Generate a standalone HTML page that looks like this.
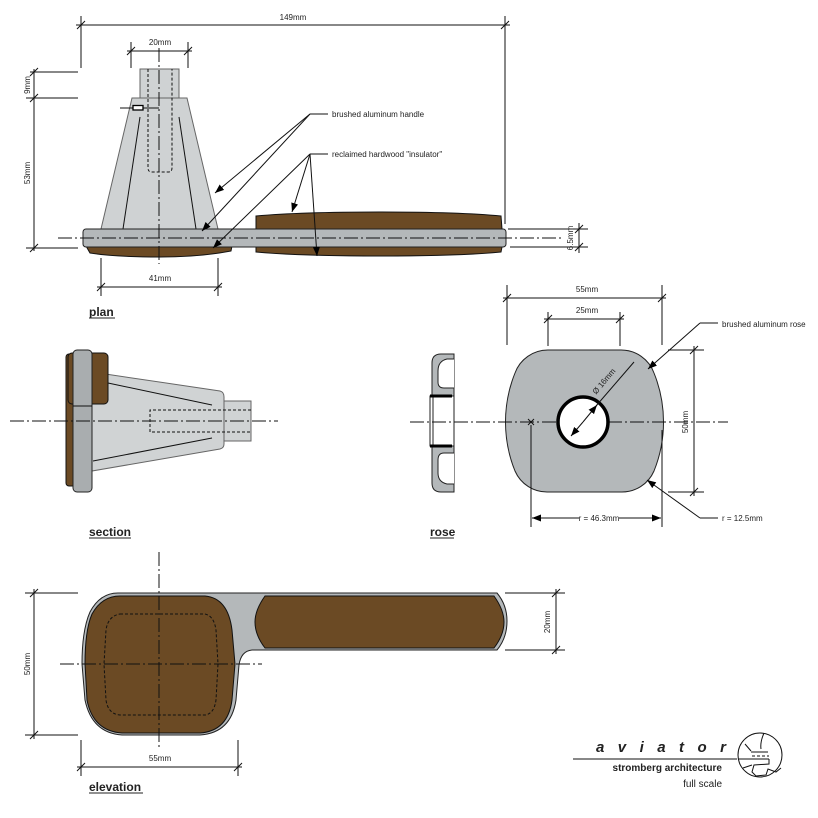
<!DOCTYPE html>
<html><head><meta charset="utf-8"><style>
html,body{margin:0;padding:0;background:#fff;}
svg{display:block;}
text{font-family:"Liberation Sans",sans-serif;fill:#222;}
</style></head><body>
<svg width="818" height="818" viewBox="0 0 818 818" xmlns="http://www.w3.org/2000/svg">
<defs>
<marker id="ar" markerWidth="10" markerHeight="8" refX="9" refY="4" orient="auto" markerUnits="userSpaceOnUse"><path d="M0,0.5 L9,4 L0,7.5 Z" fill="#000"/></marker>
</defs>
<rect width="818" height="818" fill="#fff"/>

<!-- ================= PLAN ================= -->
<path d="M256,216 Q300,212 380,212 Q460,212 501,216 L502,229 L502,247 L501,252 Q460,256 380,256 Q300,256 256,252 Z" fill="#6b4a24" stroke="#111" stroke-width="1"/>
<path d="M86,246 L232,246 L231,251 Q200,257 160,257 Q115,257 90,253 Z" fill="#6b4a24" stroke="#111" stroke-width="1"/>
<rect x="140" y="69" width="39" height="29" fill="#cfd2d3" stroke="#666" stroke-width="1"/>
<polygon points="132,98 187,98 218,229 101,229" fill="#cfd2d3" stroke="#666" stroke-width="1"/>
<line x1="140" y1="117" x2="123" y2="229" stroke="#111" stroke-width="1"/>
<line x1="179" y1="117" x2="196" y2="229" stroke="#111" stroke-width="1"/>
<path d="M148,69 L148,168 Q148,172 152,172 L168,172 Q172,172 172,168 L172,69" fill="none" stroke="#111" stroke-width="1" stroke-dasharray="3 2"/>
<line x1="120" y1="108" x2="159" y2="108" stroke="#111" stroke-width="1"/>
<rect x="133" y="105.5" width="10" height="4.5" fill="#fff" stroke="#000" stroke-width="1.3"/>
<rect x="83" y="229" width="423" height="18" rx="3" fill="#b4b8ba" stroke="#222" stroke-width="1"/>
<line x1="159" y1="48" x2="159" y2="264" stroke="#111" stroke-width="1" stroke-dasharray="14 3 2 3"/>
<line x1="58" y1="238" x2="562" y2="238" stroke="#111" stroke-width="1" stroke-dasharray="14 3 2 3"/>

<g stroke="#111" stroke-width="1" fill="none">
<line x1="81" y1="16" x2="81" y2="68"/>
<line x1="505" y1="16" x2="505" y2="224"/>
<line x1="76" y1="25" x2="510" y2="25"/>
<line x1="77" y1="29" x2="85" y2="21"/>
<line x1="501" y1="29" x2="509" y2="21"/>
<line x1="131" y1="42" x2="131" y2="68"/>
<line x1="188" y1="42" x2="188" y2="68"/>
<line x1="127" y1="51" x2="192" y2="51"/>
<line x1="127" y1="55" x2="135" y2="47"/>
<line x1="184" y1="55" x2="192" y2="47"/>
<line x1="34" y1="69" x2="34" y2="251"/>
<line x1="30" y1="72" x2="78" y2="72"/>
<line x1="26" y1="98" x2="78" y2="98"/>
<line x1="26" y1="248" x2="78" y2="248"/>
<line x1="30" y1="76" x2="38" y2="68"/>
<line x1="30" y1="102" x2="38" y2="94"/>
<line x1="30" y1="252" x2="38" y2="244"/>
<line x1="101" y1="258" x2="101" y2="296"/>
<line x1="218" y1="258" x2="218" y2="296"/>
<line x1="97" y1="287" x2="222" y2="287"/>
<line x1="97" y1="291" x2="105" y2="283"/>
<line x1="214" y1="291" x2="222" y2="283"/>
<line x1="508" y1="229" x2="588" y2="229"/>
<line x1="510" y1="247" x2="588" y2="247"/>
<line x1="579" y1="223" x2="579" y2="253"/>
<line x1="575" y1="233" x2="583" y2="225"/>
<line x1="575" y1="251" x2="583" y2="243"/>
<line x1="310" y1="114" x2="328" y2="114"/>
<line x1="310" y1="114" x2="215" y2="193" marker-end="url(#ar)"/>
<line x1="310" y1="114" x2="202" y2="231" marker-end="url(#ar)"/>
<line x1="310" y1="154" x2="328" y2="154"/>
<line x1="310" y1="154" x2="213" y2="248" marker-end="url(#ar)"/>
<line x1="310" y1="154" x2="292" y2="212" marker-end="url(#ar)"/>
<line x1="310" y1="154" x2="317" y2="256" marker-end="url(#ar)"/>
</g>
<text x="293" y="20" font-size="8" text-anchor="middle">149mm</text>
<text x="160" y="45" font-size="8" text-anchor="middle">20mm</text>
<text transform="translate(30,85) rotate(-90)" font-size="8" text-anchor="middle">9mm</text>
<text transform="translate(30,173) rotate(-90)" font-size="8" text-anchor="middle">53mm</text>
<text x="160" y="281" font-size="8" text-anchor="middle">41mm</text>
<text transform="translate(573,238) rotate(-90)" font-size="8" text-anchor="middle">6.5mm</text>
<text x="332" y="117" font-size="8">brushed aluminum handle</text>
<text x="332" y="157" font-size="8">reclaimed hardwood "insulator"</text>
<text x="89" y="316" font-size="12" font-weight="bold">plan</text>
<line x1="89" y1="318" x2="115" y2="318" stroke="#222" stroke-width="1"/>

<!-- ================= SECTION ================= -->
<path d="M92,372 L220,391 Q224,392 224,397 L224,444 Q224,448 220,449 L92,471 Z" fill="#d0d3d4" stroke="#666" stroke-width="1"/>
<rect x="224" y="401" width="27" height="40" fill="#d0d3d4" stroke="#666" stroke-width="1"/>
<line x1="108" y1="383" x2="212" y2="405" stroke="#111" stroke-width="1"/>
<line x1="93" y1="461" x2="212" y2="438" stroke="#111" stroke-width="1"/>
<path d="M251,410 L150,410 L150,432 L251,432" fill="none" stroke="#111" stroke-width="1" stroke-dasharray="3 2"/>
<rect x="66" y="354" width="11" height="132" rx="3" fill="#6b4a24" stroke="#111" stroke-width="1"/>
<rect x="68" y="353" width="40" height="51" rx="4" fill="#6b4a24" stroke="#111" stroke-width="1"/>
<rect x="73" y="350" width="19" height="142" rx="4" fill="#a9adaf" stroke="#222" stroke-width="1"/>
<line x1="73" y1="406" x2="92" y2="406" stroke="#111" stroke-width="1"/>
<line x1="10" y1="421" x2="278" y2="421" stroke="#111" stroke-width="1" stroke-dasharray="14 3 2 3"/>
<text x="89" y="536" font-size="12" font-weight="bold">section</text>
<line x1="89" y1="538" x2="131" y2="538" stroke="#222" stroke-width="1"/>

<!-- ================= ROSE SIDE ================= -->
<path d="M454,354 L441,354 Q432,354 432,363 L432,483 Q432,492 441,492 L454,492 Z" fill="#b4b8ba" stroke="#222" stroke-width="1"/>
<path d="M454,359 L447,359 Q438,361 438,371 L438,382 Q438,388 444,388 L454,388" fill="#fff" stroke="#222" stroke-width="1"/>
<path d="M454,484 L447,484 Q438,482 438,473 L438,460 Q438,453 444,453 L454,453" fill="#fff" stroke="#222" stroke-width="1"/>
<rect x="430" y="396" width="24" height="50" fill="#fff" stroke="#222" stroke-width="1"/>
<line x1="433" y1="396" x2="433" y2="446" stroke="#222" stroke-width="1"/>
<line x1="430" y1="396" x2="452" y2="396" stroke="#000" stroke-width="3"/>
<line x1="430" y1="446" x2="452" y2="446" stroke="#000" stroke-width="3"/>
<text x="430" y="536" font-size="12" font-weight="bold">rose</text>
<line x1="430" y1="538" x2="454" y2="538" stroke="#222" stroke-width="1"/>

<!-- ================= ROSE FRONT ================= -->
<path d="M548,350 L621,350 A35,35 0 0 1 654,373 A131,131 0 0 1 654,471 A35,35 0 0 1 621,492 L548,492 A35,35 0 0 1 515,471 A131,131 0 0 1 515,373 A35,35 0 0 1 548,350 Z" fill="#b4b8ba" stroke="#222" stroke-width="1"/>
<line x1="410" y1="422" x2="728" y2="422" stroke="#111" stroke-width="1" stroke-dasharray="14 3 2 3"/>
<circle cx="583" cy="422" r="25" fill="#fff" stroke="#000" stroke-width="3.5"/>
<g stroke="#111" stroke-width="1" fill="none">
<line x1="528" y1="419" x2="534" y2="425"/><line x1="528" y1="425" x2="534" y2="419"/>
<line x1="507" y1="285" x2="507" y2="345"/>
<line x1="662" y1="285" x2="662" y2="345"/>
<line x1="503" y1="298" x2="666" y2="298"/>
<line x1="503" y1="302" x2="511" y2="294"/>
<line x1="658" y1="302" x2="666" y2="294"/>
<line x1="548" y1="312" x2="548" y2="346"/>
<line x1="620" y1="312" x2="620" y2="346"/>
<line x1="544" y1="319" x2="624" y2="319"/>
<line x1="544" y1="323" x2="552" y2="315"/>
<line x1="616" y1="323" x2="624" y2="315"/>
<line x1="668" y1="350" x2="704" y2="350"/>
<line x1="668" y1="492" x2="704" y2="492"/>
<line x1="694" y1="346" x2="694" y2="496"/>
<line x1="690" y1="354" x2="698" y2="346"/>
<line x1="690" y1="496" x2="698" y2="488"/>
<line x1="531" y1="425" x2="531" y2="527"/>
<line x1="662" y1="430" x2="662" y2="527"/>
<line x1="600" y1="518" x2="532" y2="518" marker-end="url(#ar)"/>
<line x1="600" y1="518" x2="661" y2="518" marker-end="url(#ar)"/>
<line x1="634" y1="362" x2="596" y2="406"/>
<line x1="583" y1="422" x2="571" y2="436" marker-end="url(#ar)"/>
<line x1="583" y1="422" x2="597" y2="405" marker-end="url(#ar)"/>
<line x1="700" y1="323" x2="718" y2="323"/>
<line x1="700" y1="323" x2="648" y2="369" marker-end="url(#ar)"/>
<line x1="700" y1="518" x2="718" y2="518"/>
<line x1="700" y1="518" x2="647" y2="480" marker-end="url(#ar)"/>
</g>
<text x="587" y="292" font-size="8" text-anchor="middle">55mm</text>
<text x="587" y="313" font-size="8" text-anchor="middle">25mm</text>
<text transform="translate(688,422) rotate(-90)" font-size="8" text-anchor="middle">50mm</text>
<rect x="579" y="513" width="40" height="10" fill="#fff"/>
<text x="599" y="521" font-size="8" text-anchor="middle">r = 46.3mm</text>
<text transform="translate(606,383) rotate(-50)" font-size="8" text-anchor="middle">Ø 16mm</text>
<text x="722" y="327" font-size="8">brushed aluminum rose</text>
<text x="722" y="521" font-size="8">r = 12.5mm</text>

<!-- ================= ELEVATION ================= -->
<path d="M118,593 L497,593 Q507,605 507,621 Q507,638 497,650 L252,650 Q241,651 239,665 L236,700 Q231,733 200,735 L122,735 Q92,733 85,700 L82,664 Q82,630 90,612 Q100,593 118,593 Z" fill="#b4b8ba" stroke="#222" stroke-width="1"/>
<path d="M120,596 L205,596 Q228,598 232,630 L235,664 L232,700 Q228,731 200,733 L122,733 Q93,731 87,700 L85,664 Q85,630 92,614 Q102,596 120,596 Z" fill="#6b4a24" stroke="#111" stroke-width="1"/>
<path d="M265,596 L494,596 Q504,610 504,622 Q504,635 494,648 L265,648 Q255,635 255,622 Q255,610 265,596 Z" fill="#6b4a24" stroke="#111" stroke-width="1"/>
<path d="M120,614 L205,614 Q214,616 216,630 L218,664 L216,700 Q214,714 205,715 L120,715 Q108,714 106,700 L104,664 L106,630 Q108,616 120,614 Z" fill="none" stroke="#111" stroke-width="1" stroke-dasharray="3 2"/>
<line x1="159" y1="552" x2="159" y2="748" stroke="#111" stroke-width="1" stroke-dasharray="14 3 2 3"/>
<line x1="60" y1="664" x2="262" y2="664" stroke="#111" stroke-width="1" stroke-dasharray="14 3 2 3"/>
<g stroke="#111" stroke-width="1" fill="none">
<line x1="25" y1="593" x2="78" y2="593"/>
<line x1="25" y1="735" x2="78" y2="735"/>
<line x1="34" y1="589" x2="34" y2="739"/>
<line x1="30" y1="597" x2="38" y2="589"/>
<line x1="30" y1="739" x2="38" y2="731"/>
<line x1="81" y1="740" x2="81" y2="776"/>
<line x1="238" y1="740" x2="238" y2="776"/>
<line x1="77" y1="767" x2="242" y2="767"/>
<line x1="77" y1="771" x2="85" y2="763"/>
<line x1="234" y1="771" x2="242" y2="763"/>
<line x1="505" y1="593" x2="565" y2="593"/>
<line x1="505" y1="650" x2="565" y2="650"/>
<line x1="556" y1="589" x2="556" y2="654"/>
<line x1="552" y1="597" x2="560" y2="589"/>
<line x1="552" y1="654" x2="560" y2="646"/>
</g>
<text transform="translate(30,664) rotate(-90)" font-size="8" text-anchor="middle">50mm</text>
<text x="160" y="761" font-size="8" text-anchor="middle">55mm</text>
<text transform="translate(550,622) rotate(-90)" font-size="8" text-anchor="middle">20mm</text>
<text x="89" y="791" font-size="12" font-weight="bold">elevation</text>
<line x1="89" y1="793" x2="143" y2="793" stroke="#222" stroke-width="1"/>

<!-- ================= LOGO ================= -->
<text x="596" y="752" font-size="15" font-weight="bold" font-style="italic" textLength="130" lengthAdjust="spacing">aviator</text>
<line x1="573" y1="759" x2="737" y2="759" stroke="#111" stroke-width="1"/>
<text x="722" y="771" font-size="10" font-weight="bold" text-anchor="end">stromberg architecture</text>
<text x="722" y="787" font-size="10" text-anchor="end">full scale</text>
<g stroke="#111" stroke-width="1" fill="none">
<circle cx="760" cy="755" r="22"/>
<path d="M764,733 Q760,742 761,749"/>
<path d="M745,744 L751,751"/>
<line x1="751" y1="752" x2="768" y2="752"/>
<line x1="752" y1="756" x2="769" y2="756" stroke-dasharray="3 2"/>
<line x1="738" y1="759" x2="769" y2="759"/>
<path d="M769,759 L769,764 L754,765 L752,772 L756,776 L766,775 L768,769 L776,772 L781,768"/>
<path d="M743,768 L752,765"/>
</g>
</svg>
</body></html>
